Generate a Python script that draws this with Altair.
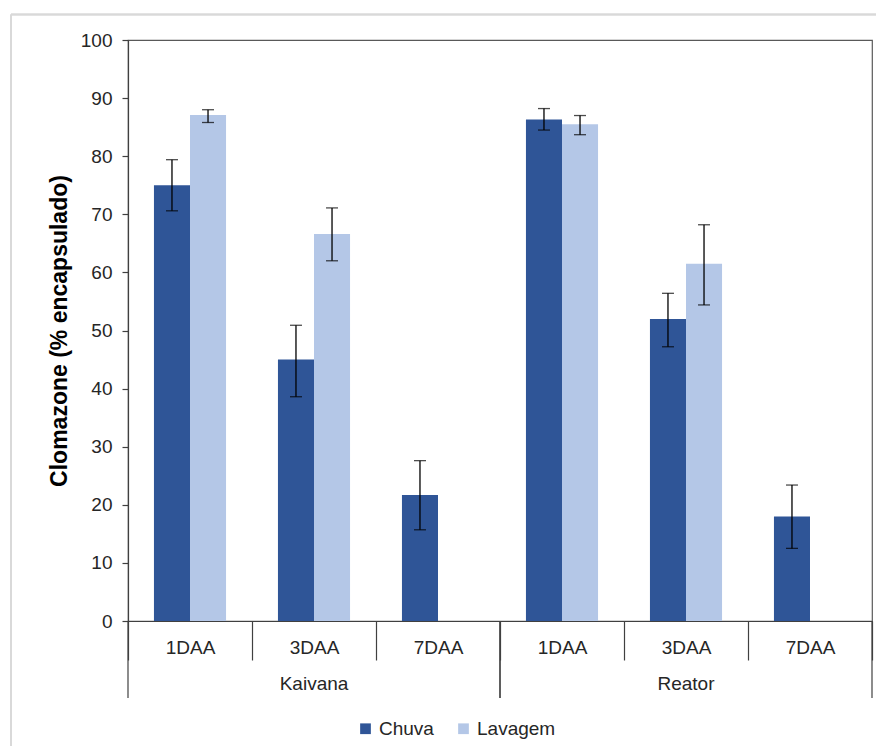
import altair as alt
import pandas as pd

# ---- data ----
grupos = ["Kaivana", "Kaivana", "Kaivana", "Reator", "Reator", "Reator"]
dias = ["1DAA", "3DAA", "7DAA", "1DAA", "3DAA", "7DAA"]
series = ["Chuva", "Lavagem"]
chuva = [75.0, 45.0, 21.7, 86.3, 52.0, 18.0]
chuva_lo = [70.6, 38.6, 15.7, 84.5, 47.2, 12.5]
chuva_hi = [79.4, 50.9, 27.6, 88.2, 56.4, 23.4]
lavagem = [87.1, 66.6, None, 85.5, 61.5, None]
lavagem_lo = [85.8, 62.0, None, 83.7, 54.4, None]
lavagem_hi = [88.0, 71.1, None, 87.0, 68.2, None]
cores = ["#2F5597", "#B4C7E7"]

keys = [f"{g}|{d}" for g, d in zip(grupos, dias)]

rows = []
for i, k in enumerate(keys):
    for s, v, lo, hi in (("Chuva", chuva, chuva_lo, chuva_hi),
                         ("Lavagem", lavagem, lavagem_lo, lavagem_hi)):
        if v[i] is not None:
            rows.append({"key": k, "grupo": grupos[i], "dia": dias[i], "serie": s,
                         "valor": v[i], "lo": lo[i], "hi": hi[i]})
df = pd.DataFrame(rows)

# group helpers (first, middle, last category of each group)
gdf = pd.DataFrame([
    {"grupo": g,
     "first": [k for k, gg in zip(keys, grupos) if gg == g][0],
     "mid": [k for k, gg in zip(keys, grupos) if gg == g][1],
     "last": [k for k, gg in zip(keys, grupos) if gg == g][-1]}
    for g in dict.fromkeys(grupos)
])

W, H = 744, 581
AX = "#404040"
FONT = "Liberation Sans"

xscale = alt.Scale(domain=keys, paddingInner=0, paddingOuter=0)
xoff = alt.XOffset("serie:N", scale=alt.Scale(domain=series, paddingInner=0, paddingOuter=0.72))

bars = alt.Chart(df).mark_bar().encode(
    x=alt.X("key:N", scale=xscale, sort=keys,
            axis=alt.Axis(title=None, tickBand="extent", tickSize=39, labelAngle=0,
                          labelExpr="split(datum.label, '|')[1]", labelPadding=-13,
                          labelBaseline="middle", labelFontSize=19, labelColor="#262626",
                          domainColor=AX, tickColor=AX, domainWidth=1.2, tickWidth=1.2)),
    xOffset=xoff,
    y=alt.Y("valor:Q", scale=alt.Scale(domain=[0, 100], nice=False),
            axis=alt.Axis(title="Clomazone (% encapsulado)", values=list(range(0, 101, 10)),
                          tickSize=6, labelPadding=10, labelFontSize=19, labelColor="#262626",
                          titleFontSize=23, titleFontWeight="bold", titleColor="#000000",
                          titlePadding=9, grid=False, domainColor=AX, tickColor=AX,
                          domainWidth=1.2, tickWidth=1.2)),
    color=alt.Color("serie:N", scale=alt.Scale(domain=series, range=cores),
                    legend=alt.Legend(title=None, orient="none", legendX=228, legendY=679,
                                      direction="horizontal", symbolType="square",
                                      symbolSize=115, symbolStrokeWidth=0,
                                      labelFontSize=19, labelColor="#262626",
                                      labelOffset=4, columnPadding=20)),
)

err = alt.Chart(df).mark_rule(color="#000000", strokeWidth=1.3).encode(
    x=alt.X("key:N", scale=xscale, sort=keys),
    xOffset=xoff,
    y="lo:Q",
    y2="hi:Q",
)
cap_lo = alt.Chart(df).mark_tick(color="#000000", orient="horizontal", size=12, thickness=1.3).encode(
    x=alt.X("key:N", scale=xscale, sort=keys), xOffset=xoff, y="lo:Q")
cap_hi = alt.Chart(df).mark_tick(color="#000000", orient="horizontal", size=12, thickness=1.3).encode(
    x=alt.X("key:N", scale=xscale, sort=keys), xOffset=xoff, y="hi:Q")

sep_start = alt.Chart(gdf).mark_rule(color=AX, strokeWidth=1.2).encode(
    x=alt.X("first:N", scale=xscale, sort=keys, bandPosition=0),
    y=alt.value(H), y2=alt.value(H + 77))
sep_end = alt.Chart(gdf).mark_rule(color=AX, strokeWidth=1.2).encode(
    x=alt.X("last:N", scale=xscale, sort=keys, bandPosition=1),
    y=alt.value(H), y2=alt.value(H + 77))
glabels = alt.Chart(gdf).mark_text(fontSize=19, color="#262626", baseline="middle").encode(
    x=alt.X("mid:N", scale=xscale, sort=keys, bandPosition=0.5),
    y=alt.value(H + 63),
    text="grupo:N")

frame_top = alt.Chart(gdf).mark_rule(color="#D9D9D9", strokeWidth=2).encode(
    x=alt.value(-117), x2=alt.value(W + 20), y=alt.value(-25.5))
frame_left = alt.Chart(gdf).mark_rule(color="#D9D9D9", strokeWidth=2).encode(
    x=alt.value(-117), y=alt.value(-25.5), y2=alt.value(H + 140))

chart = alt.layer(
    frame_top, frame_left, bars, err, cap_lo, cap_hi, sep_start, sep_end, glabels
).properties(
    width=W, height=H,
    padding={"left": 120, "top": 32, "right": 4, "bottom": 125},
    autosize=alt.AutoSizeParams(type="none"),
).configure(font=FONT).configure_view(stroke="#595959", strokeWidth=1.2)

chart.save("out.html", embed_options={"renderer": "svg", "actions": False})
